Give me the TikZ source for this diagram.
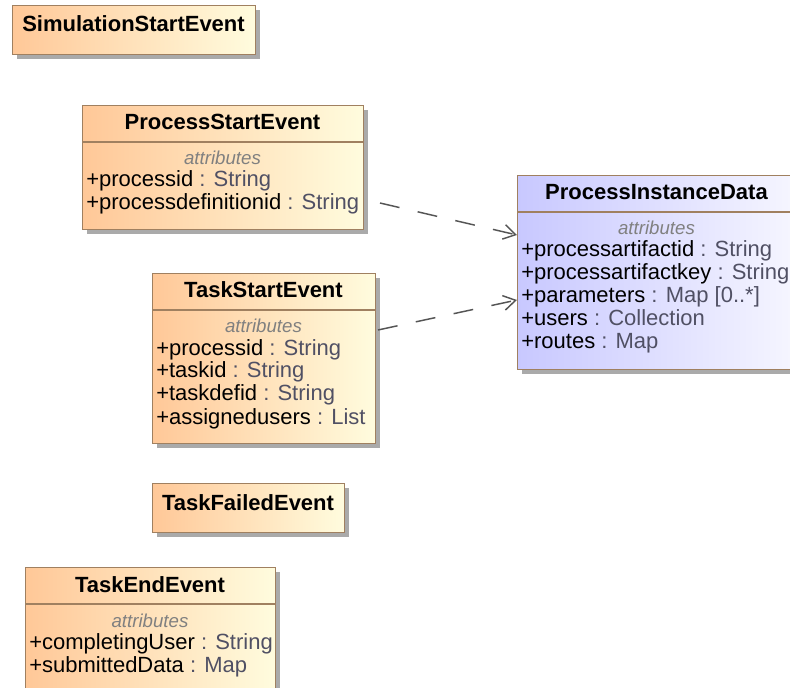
\documentclass[tikz,border=0pt]{standalone}
\usepackage{fontspec}
\setmainfont{Liberation Sans}
\usetikzlibrary{shadows,arrows.meta,calc}
\definecolor{bord}{RGB}{160,128,96}
\definecolor{orL}{RGB}{255,200,152}
\definecolor{orR}{RGB}{255,252,222}
\definecolor{blL}{RGB}{200,200,255}
\definecolor{blR}{RGB}{246,246,255}
\definecolor{typec}{RGB}{80,80,100}
\definecolor{attrc}{RGB}{128,128,128}
\definecolor{depc}{RGB}{85,85,85}
\definecolor{shad}{RGB}{170,170,170}
\begin{document}
\begin{tikzpicture}[x=0.75pt,y=-0.75pt,
  cls/.style={draw=bord, line width=1.1pt, rectangle, inner sep=0pt, anchor=north west,
    left color=orL, right color=orR,
    drop shadow={shadow xshift=3.5pt, shadow yshift=-3.5pt, fill=shad, opacity=1}},
  dcls/.style={cls, left color=blL, right color=blR},
  ttl/.style={font=\bfseries\fontsize{16.5pt}{18pt}\selectfont, inner sep=0pt, anchor=base},
  atl/.style={font=\itshape\fontsize{14pt}{16pt}\selectfont, text=attrc, inner sep=0pt, anchor=base},
  att/.style={font=\fontsize{16.5pt}{18pt}\selectfont, inner sep=0pt, anchor=base west},
  sepl/.style={draw=bord, line width=1.1pt},
  dep/.style={draw=depc, line width=1.1pt, dash pattern=on 15pt off 14pt,
    -{Straight Barb[length=9pt,width=11pt,line width=1.1pt]}}]
\useasboundingbox[fill=white] (0,0) rectangle (790,688);

% SimulationStartEvent
\node[cls, minimum width=182.25pt, minimum height=36.75pt] (sse) at (12,5) {};
\node[ttl] (sseT) at (133.5,32) {SimulationStartEvent};

% ProcessStartEvent
\node[cls, minimum width=210.75pt, minimum height=93pt] (pse) at (82,105) {};
\draw[sepl] (82,142) -- (363,142);
\node[ttl] (pseT) at (222.5,130) {ProcessStartEvent};
\node[atl] (pseA) at (222.5,165) {attributes};
\node[att] (pse1) at (86,187) {+processid \textcolor{typec}{: String}};
\node[att] (pse2) at (86,210) {+processdefinitionid \textcolor{typec}{: String}};

% TaskStartEvent
\node[cls, minimum width=167.25pt, minimum height=127.5pt] (tse) at (152,273) {};
\draw[sepl] (152,310) -- (375,310);
\node[ttl] (tseT) at (263.5,298) {TaskStartEvent};
\node[atl] (tseA) at (263.5,333) {attributes};
\node[att] (tse1) at (156,355) {+processid \textcolor{typec}{: String}};
\node[att] (tse2) at (156,378) {+taskid \textcolor{typec}{: String}};
\node[att] (tse3) at (156,401) {+taskdefid \textcolor{typec}{: String}};
\node[att] (tse4) at (156,424) {+assignedusers \textcolor{typec}{: List}};

% ProcessInstanceData
\node[dcls, minimum width=209.25pt, minimum height=145.5pt] (pid) at (517,175) {};
\draw[sepl] (517,212) -- (796,212);
\node[ttl] (pidT) at (656.5,200) {ProcessInstanceData};
\node[atl] (pidA) at (656.5,235) {attributes};
\node[att] (pid1) at (521,257) {+processartifactid \textcolor{typec}{: String}};
\node[att] (pid2) at (521,280) {+processartifactkey \textcolor{typec}{: String}};
\node[att] (pid3) at (521,303) {+parameters \textcolor{typec}{: Map [0..*]}};
\node[att] (pid4) at (521,326) {+users \textcolor{typec}{: Collection}};
\node[att] (pid5) at (521,349) {+routes \textcolor{typec}{: Map}};

% TaskFailedEvent
\node[cls, minimum width=144pt, minimum height=36.75pt] (tfe) at (152,483) {};
\node[ttl] (tfeT) at (248,510) {TaskFailedEvent};

% TaskEndEvent
\node[cls, minimum width=187.5pt, minimum height=105pt] (tee) at (25,567) {};
\draw[sepl] (25,604) -- (275,604);
\node[ttl] (teeT) at (150,592) {TaskEndEvent};
\node[atl] (teeA) at (150,627) {attributes};
\node[att] (tee1) at (29,649) {+completingUser \textcolor{typec}{: String}};
\node[att] (tee2) at (29,672) {+submittedData \textcolor{typec}{: Map}};

% dependencies
\coordinate (s1) at (380,203);
\coordinate (s2) at (378,330);
\draw[dep] (s1) -- ($(pid.north west)+(0,60)$);
\draw[dep] (s2) -- ($(pid.north west)+(0,125)$);
\end{tikzpicture}
\end{document}
